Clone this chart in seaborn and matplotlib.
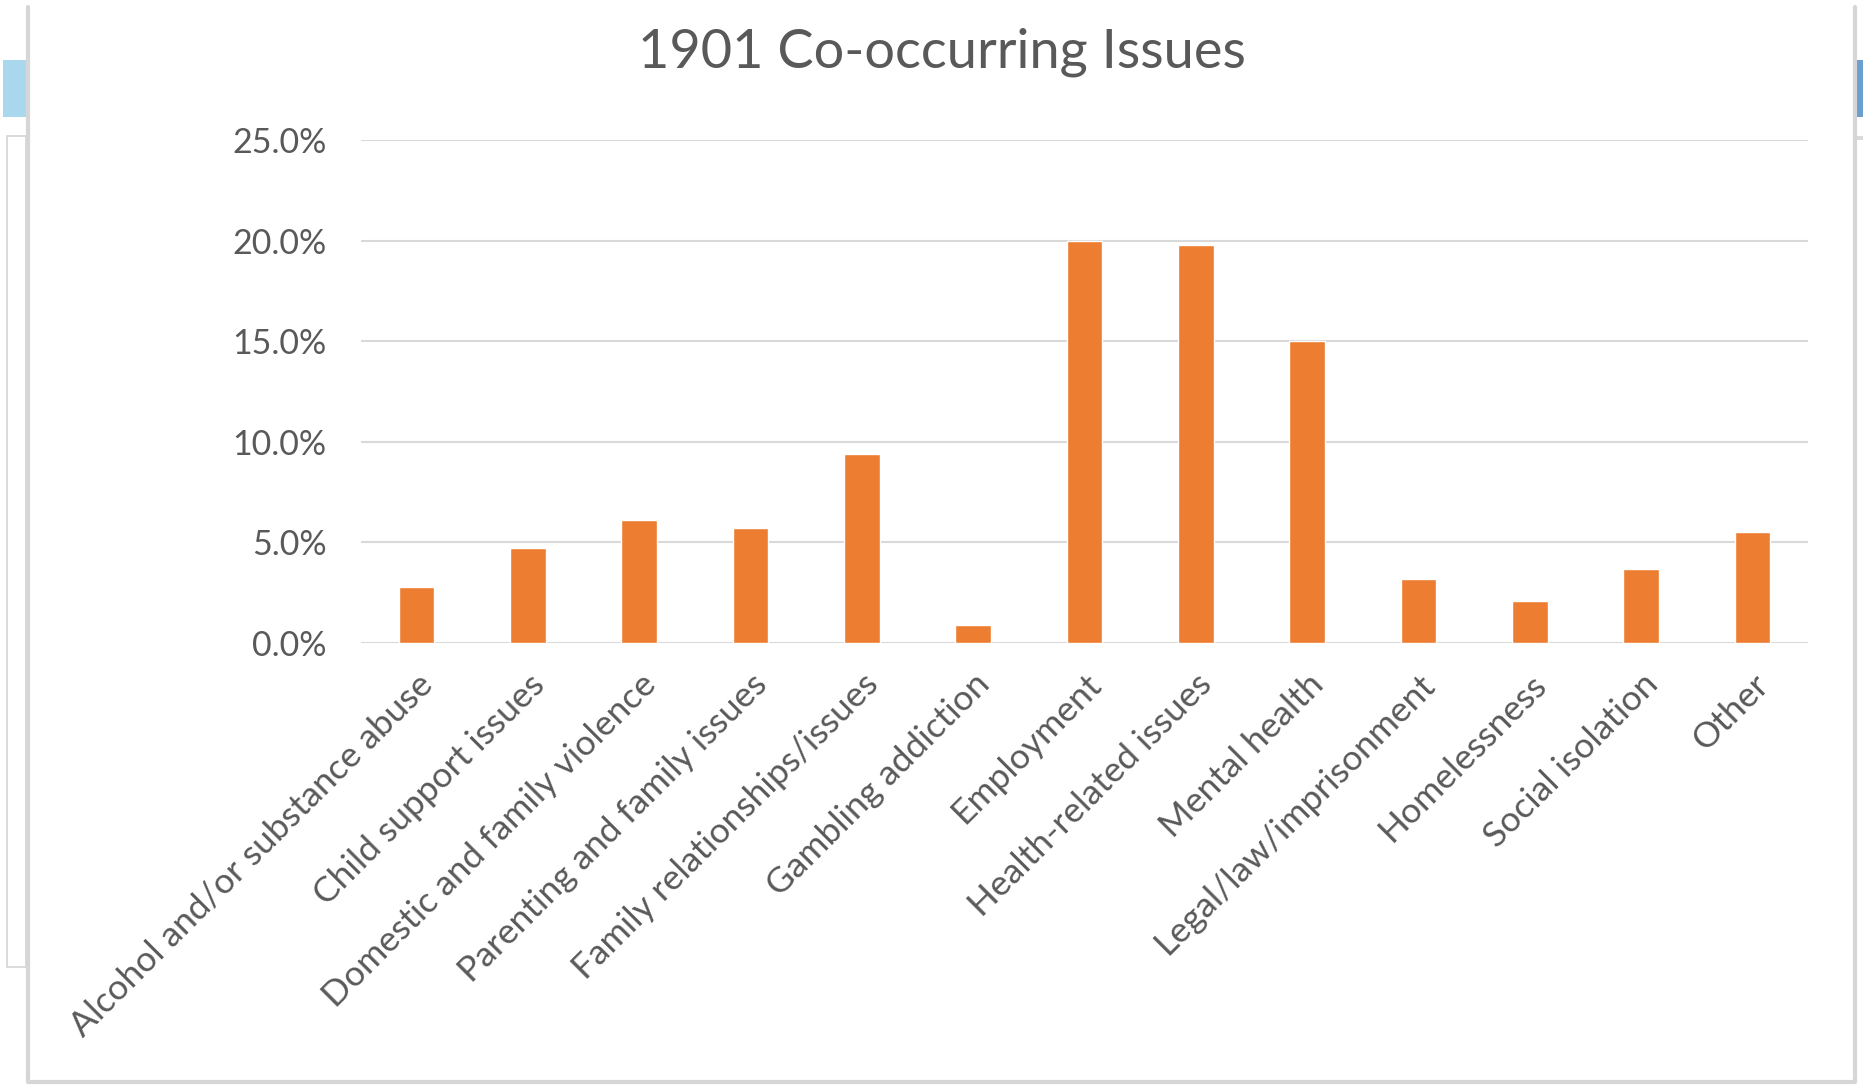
import matplotlib
matplotlib.use("Agg")
import matplotlib.pyplot as plt
from matplotlib.patches import Rectangle
from matplotlib.lines import Line2D
from matplotlib.ticker import PercentFormatter, MultipleLocator
import seaborn as sns
import pandas as pd

# data (shares of clients)
issues = [
    "Alcohol and/or substance abuse",
    "Child support issues",
    "Domestic and family violence",
    "Parenting and family issues",
    "Family relationships/issues",
    "Gambling addiction",
    "Employment",
    "Health-related issues",
    "Mental health",
    "Legal/law/imprisonment",
    "Homelessness",
    "Social isolation",
    "Other",
]
shares = [0.028, 0.047, 0.061, 0.057, 0.094, 0.009,
          0.200, 0.198, 0.150, 0.032, 0.021, 0.037, 0.055]

title = "1901 Co-occurring Issues"
bar_color = "#ED7D31"
text_color = "#595959"
grid_color = "#D9D9D9"

sns.set_theme(style="white")
plt.rcParams['font.family'] = ['Lato', 'DejaVu Sans']

W, H = 1863, 1085
fig = plt.figure(figsize=(W / 100, H / 100), dpi=100)
fig.patch.set_facecolor("white")

# screenshot surroundings: chart frame and bits of the window behind it
def px_rect(x0, y0, x1, y1, **kw):
    fig.add_artist(Rectangle((x0 / W, 1 - y1 / H), (x1 - x0) / W, (y1 - y0) / H,
                             transform=fig.transFigure, zorder=-5, **kw))

def px_line(xs, ys, **kw):
    fig.add_artist(Line2D([x / W for x in xs], [1 - y / H for y in ys],
                          transform=fig.transFigure, zorder=-4, **kw))

px_rect(3, 60, 26, 117, facecolor="#A9D8EE", edgecolor="none")
px_rect(1857, 60, 1863, 117, facecolor="#6A9FD0", edgecolor="none")
px_rect(7, 136, 26, 967, facecolor="none", edgecolor="#D4D4D4", linewidth=1.2)
px_rect(1857, 136, 1866, 140, facecolor="#DADADA", edgecolor="none")
px_rect(27, 7, 1855, 1082, facecolor="white", edgecolor="none")
px_line([28, 28, 1855, 1855], [7, 1082, 1082, 7], color="#D6D6D6", linewidth=3)

ax = fig.add_axes([361 / W, 1 - 643 / H, (1808 - 361) / W, (643 - 140) / H])
df = pd.DataFrame({"issue": issues, "share": shares})
sns.barplot(data=df, x="issue", y="share", color=bar_color, saturation=1,
            width=0.32, ax=ax, zorder=3)

ax.set_ylim(0, 0.25)
ax.yaxis.set_major_locator(MultipleLocator(0.05))
ax.yaxis.set_major_formatter(PercentFormatter(1.0, decimals=1))
ax.grid(axis="y", color=grid_color, linewidth=1.5, zorder=0)
ax.set_axisbelow(True)
for s in ax.spines.values():
    s.set_visible(False)
ax.set_xlabel("")
ax.set_ylabel("")
ax.tick_params(axis="y", length=0, pad=25, labelsize=24.5, labelcolor=text_color)
ax.tick_params(axis="x", length=0, pad=18, labelsize=25.5, labelcolor=text_color)
ax.set_xticks(range(len(issues)))
ax.set_xticklabels(issues, rotation=45, ha="right", va="top", rotation_mode="anchor")
ax.set_facecolor("none")

fig.text(942 / W, 1 - 52 / H, title, ha="center", va="center",
         fontsize=39, color=text_color)

plt.savefig("out.png", dpi=100)
